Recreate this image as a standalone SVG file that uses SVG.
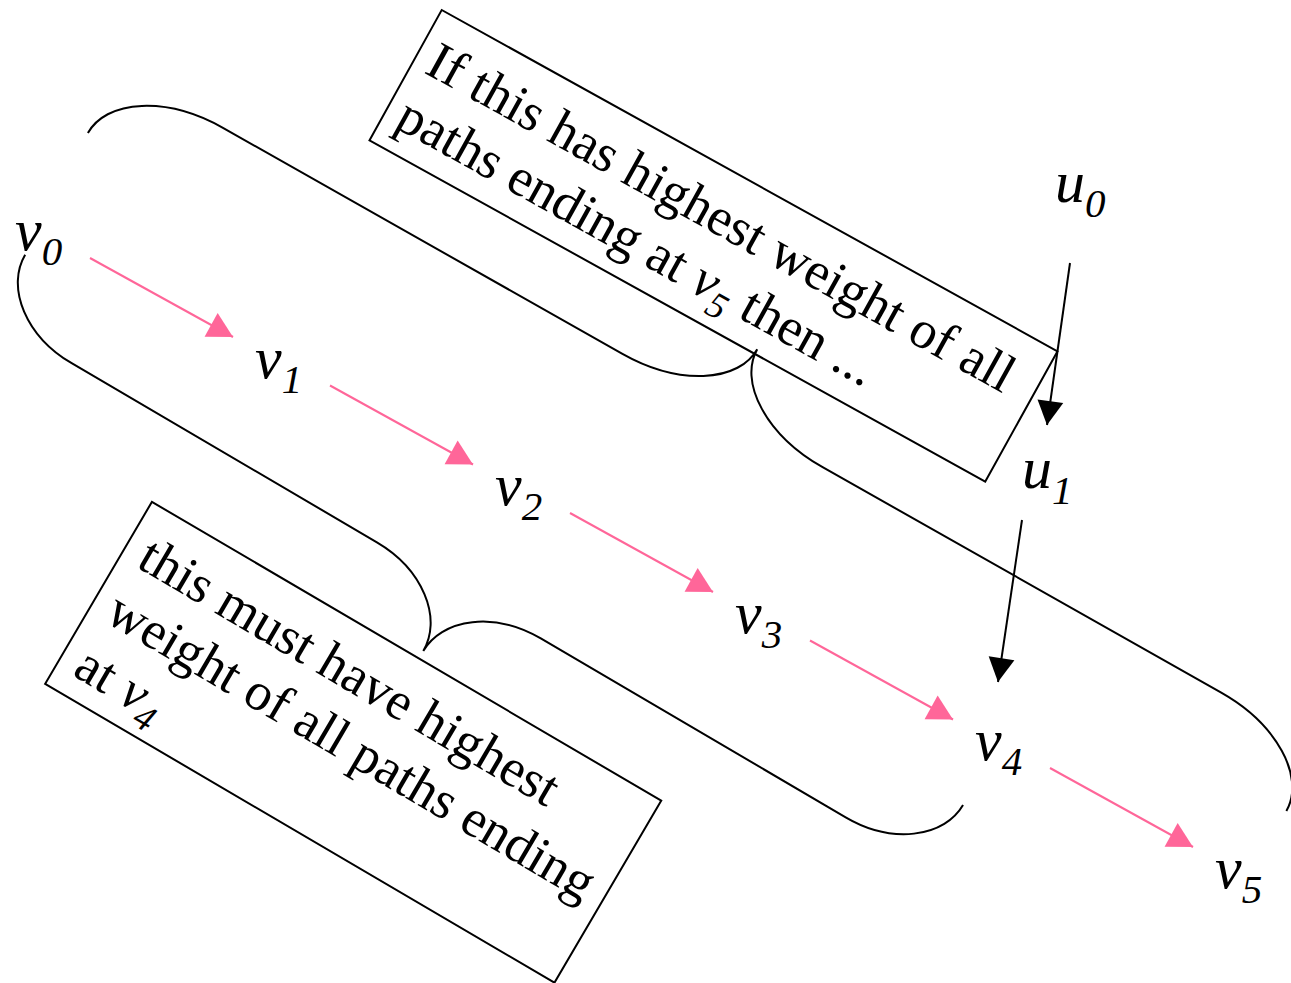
<svg xmlns="http://www.w3.org/2000/svg" width="1291" height="983" viewBox="0 0 1291 983">
<style>
.lbl{font-family:"Liberation Serif","Times New Roman",serif;font-style:italic;font-size:60px;fill:#000}
.sub{font-size:41px}
.box{fill:none;stroke:#000;stroke-width:2}
.btxt{font-family:"Liberation Serif","Times New Roman",serif;font-size:53.5px;fill:#000}
.bsub{font-size:37px;font-style:italic}
.brace{fill:none;stroke:#000;stroke-width:2}
.pink{stroke:#ff6699;stroke-width:2;fill:none;marker-end:url(#ap)}
.blk{stroke:#000;stroke-width:2;fill:none;marker-end:url(#ab)}
</style>
<defs>
<marker id="ap" markerUnits="userSpaceOnUse" markerWidth="30" markerHeight="30" viewBox="-27 -15 30 30" refX="0" refY="0" orient="auto">
<path d="M0,0 L-25,-13.5 L-25,13.5 z" fill="#ff6699"/>
</marker>
<marker id="ab" markerUnits="userSpaceOnUse" markerWidth="30" markerHeight="30" viewBox="-27 -15 30 30" refX="0" refY="0" orient="auto">
<path d="M0,0 L-24,-13 L-24,13 z" fill="#000"/>
</marker>
</defs>
<rect width="1291" height="983" fill="#fff"/>

<g id="braces">
<path class="brace" transform="rotate(29.5)" d="M142,72.5 A115,71 0 0 1 257,1.5 L716,1.5 A115,70.5 0 0 0 831,-69 A115,70.5 0 0 0 946,1.5 L1404,1.5 A115,71 0 0 1 1519,72.5"/>
<path class="brace" transform="rotate(30.4)" d="M150.6,207 A95,70 0 0 0 245.6,277 L599.5,277 A95,70.3 0 0 1 694.5,347.3 A95,70.3 0 0 1 789.5,277 L1143,277 A95,70 0 0 0 1238,207"/>
</g>

<g id="note-upper" transform="rotate(29)">
<rect class="box" x="391.2" y="-205.4" width="704" height="149"/>
<text class="btxt" x="405" y="-142">If this has highest weight of all</text>
<text class="btxt" x="405" y="-80">paths ending at <tspan font-style="italic">v</tspan><tspan class="bsub" dy="12">5</tspan><tspan dy="-12"> then ...</tspan></text>
</g>

<g id="note-lower" transform="rotate(30.4)">
<rect class="box" x="385" y="356" width="590.5" height="211"/>
<text class="btxt" x="403" y="420">this must have highest</text>
<text class="btxt" x="403" y="483">weight of all paths ending</text>
<text class="btxt" x="403" y="546">at <tspan font-style="italic">v</tspan><tspan class="bsub" dy="12">4</tspan></text>
</g>

<g id="connectors">
<line class="pink" x1="90" y1="258" x2="233" y2="337"/>
<line class="pink" x1="330" y1="385.5" x2="473" y2="464.5"/>
<line class="pink" x1="570" y1="513" x2="713" y2="592"/>
<line class="pink" x1="810" y1="640.5" x2="953" y2="719.5"/>
<line class="pink" x1="1050" y1="768" x2="1193" y2="847"/>
<line class="blk" x1="1070" y1="263" x2="1047" y2="425"/>
<line class="blk" x1="1022" y1="520" x2="998" y2="682"/>
</g>

<g id="v0"><text class="lbl" x="15" y="250">v<tspan class="sub" dy="15">0</tspan></text></g>
<g id="v1"><text class="lbl" x="255" y="377.5">v<tspan class="sub" dy="15">1</tspan></text></g>
<g id="v2"><text class="lbl" x="495" y="505">v<tspan class="sub" dy="15">2</tspan></text></g>
<g id="v3"><text class="lbl" x="735" y="632.5">v<tspan class="sub" dy="15">3</tspan></text></g>
<g id="v4"><text class="lbl" x="975" y="760">v<tspan class="sub" dy="15">4</tspan></text></g>
<g id="v5"><text class="lbl" x="1215" y="887.5">v<tspan class="sub" dy="15">5</tspan></text></g>
<g id="u0"><text class="lbl" x="1055" y="202">u<tspan class="sub" dy="15">0</tspan></text></g>
<g id="u1"><text class="lbl" x="1022" y="488">u<tspan class="sub" dy="16">1</tspan></text></g>
</svg>
